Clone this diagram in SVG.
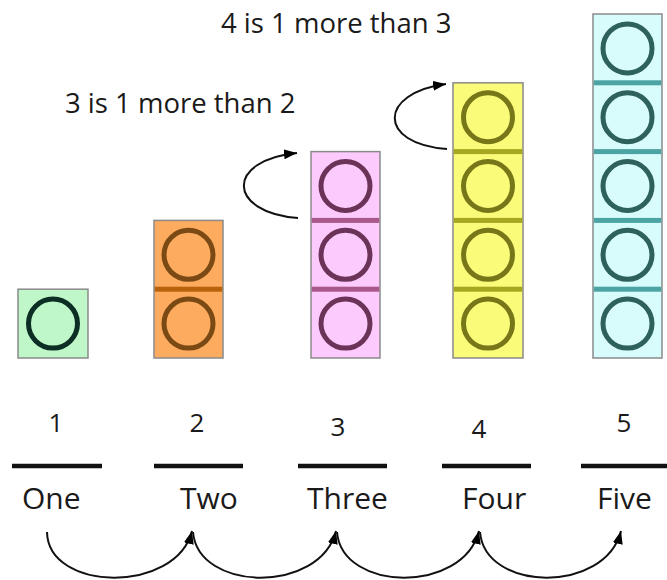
<svg xmlns="http://www.w3.org/2000/svg" width="667" height="580" viewBox="0 0 667 580">
<defs>
<marker id="ah" markerUnits="userSpaceOnUse" markerWidth="14" markerHeight="12" refX="13" refY="5" orient="auto">
<path d="M0,0 L13,5 L0,10 z" fill="#000"/>
</marker>
<style>
.cube{stroke:#8a8a8a;stroke-width:1.5}
.ring{fill:none;stroke-width:5}
.lbl{font-family:"Open Sans","Noto Sans",sans-serif;fill:#1a1a1a}
.num{font-size:26px;text-anchor:middle}
.word{font-size:30px}
.cap{font-size:27.5px}
.bar{stroke:#111;stroke-width:4.5}
.arc{fill:none;stroke:#111;stroke-width:2;marker-end:url(#ah)}
</style>
</defs>
<rect width="667" height="580" fill="#fff"/>

<g id="captions" class="lbl">
<text class="cap" x="221" y="33">4 is 1 more than 3</text>
<text class="cap" x="65" y="113">3 is 1 more than 2</text>
</g>

<g id="stack-1">
<rect class="cube" x="18" y="289.2" width="70" height="68.8" fill="#bff7c8"/>
<circle class="ring" cx="53" cy="323.6" r="24.5" stroke="#0d2e25"/>
</g>

<g id="stack-2">
<rect class="cube" x="154" y="220.4" width="69" height="137.6" fill="#fdab5e"/>
<rect x="154.75" y="286.7" width="67.5" height="5" fill="#b8620c"/>
<circle class="ring" cx="188.5" cy="254.8" r="24.5" stroke="#7b4a14"/>
<circle class="ring" cx="188.5" cy="323.6" r="24.5" stroke="#7b4a14"/>
</g>

<g id="stack-3">
<rect class="cube" x="311" y="151.6" width="69" height="206.4" fill="#fccafc"/>
<rect x="311.75" y="217.9" width="67.5" height="5" fill="#a8588a"/>
<rect x="311.75" y="286.7" width="67.5" height="5" fill="#a8588a"/>
<circle class="ring" cx="345.5" cy="186" r="24.5" stroke="#6b3357"/>
<circle class="ring" cx="345.5" cy="254.8" r="24.5" stroke="#6b3357"/>
<circle class="ring" cx="345.5" cy="323.6" r="24.5" stroke="#6b3357"/>
</g>

<g id="stack-4">
<rect class="cube" x="453" y="82.8" width="70" height="275.2" fill="#fbfb7a"/>
<rect x="453.75" y="149.1" width="68.5" height="5" fill="#a6a620"/>
<rect x="453.75" y="217.9" width="68.5" height="5" fill="#a6a620"/>
<rect x="453.75" y="286.7" width="68.5" height="5" fill="#a6a620"/>
<circle class="ring" cx="488" cy="117.2" r="24.5" stroke="#77771a"/>
<circle class="ring" cx="488" cy="186" r="24.5" stroke="#77771a"/>
<circle class="ring" cx="488" cy="254.8" r="24.5" stroke="#77771a"/>
<circle class="ring" cx="488" cy="323.6" r="24.5" stroke="#77771a"/>
</g>

<g id="stack-5">
<rect class="cube" x="593" y="14" width="69" height="344" fill="#d8fcfc"/>
<rect x="593.75" y="80.3" width="67.5" height="5" fill="#4ba3a3"/>
<rect x="593.75" y="149.1" width="67.5" height="5" fill="#4ba3a3"/>
<rect x="593.75" y="217.9" width="67.5" height="5" fill="#4ba3a3"/>
<rect x="593.75" y="286.7" width="67.5" height="5" fill="#4ba3a3"/>
<circle class="ring" cx="627.5" cy="48.4" r="24.5" stroke="#2e605c"/>
<circle class="ring" cx="627.5" cy="117.2" r="24.5" stroke="#2e605c"/>
<circle class="ring" cx="627.5" cy="186" r="24.5" stroke="#2e605c"/>
<circle class="ring" cx="627.5" cy="254.8" r="24.5" stroke="#2e605c"/>
<circle class="ring" cx="627.5" cy="323.6" r="24.5" stroke="#2e605c"/>
</g>

<g id="labels" class="lbl">
<text class="num" x="56" y="432">1</text>
<text class="num" x="197" y="432">2</text>
<text class="num" x="338" y="436">3</text>
<text class="num" x="479" y="438">4</text>
<text class="num" x="624" y="432">5</text>
<line class="bar" x1="12" y1="466" x2="102" y2="466"/>
<line class="bar" x1="154" y1="466" x2="243" y2="466"/>
<line class="bar" x1="298" y1="466" x2="387" y2="466"/>
<line class="bar" x1="442" y1="466" x2="531" y2="466"/>
<line class="bar" x1="581" y1="466" x2="667" y2="466"/>
<text class="word" x="22" y="509">One</text>
<text class="word" x="180" y="509">Two</text>
<text class="word" x="307" y="509">Three</text>
<text class="word" x="462" y="509">Four</text>
<text class="word" x="597" y="509">Five</text>
</g>

<g id="connectors">
<path class="arc" d="M298,218 C226,212 226,160 297,153"/>
<path class="arc" d="M447,149 C377,144 378,93 446,84"/>
<path class="arc" d="M47,532 C48,592 176,594 192,531"/>
<path class="arc" d="M193,532 C198,592 320,594 336,531"/>
<path class="arc" d="M337,532 C342,592 463,594 479,531"/>
<path class="arc" d="M480,532 C485,592 605,594 621,531"/>
</g>
</svg>
